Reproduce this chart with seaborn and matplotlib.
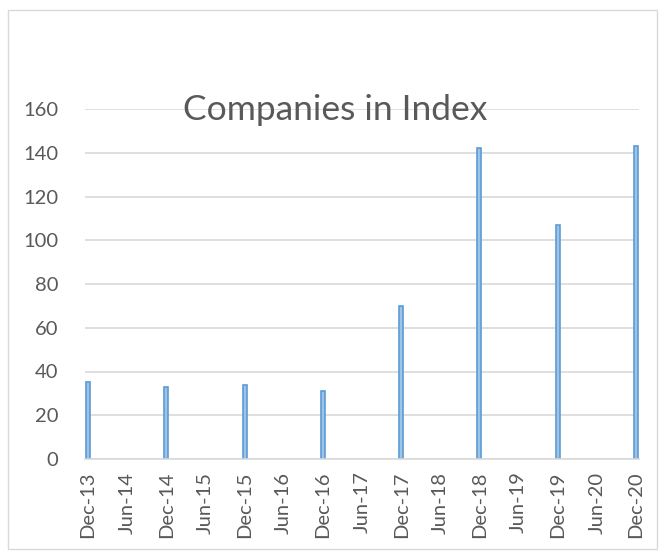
import matplotlib
matplotlib.use("Agg")
import matplotlib.pyplot as plt
import seaborn as sns
import pandas as pd
from matplotlib.patches import Rectangle

# months since Dec-13 for each observation
months = [0, 12, 24, 36, 48, 60, 72, 84]
companies = [35, 33, 34, 31, 70, 142, 107, 143]
tick_labels = ["Dec-13", "Jun-14", "Dec-14", "Jun-15", "Dec-15", "Jun-16", "Dec-16",
               "Jun-17", "Dec-17", "Jun-18", "Dec-18", "Jun-19", "Dec-19", "Jun-20", "Dec-20"]

df = pd.DataFrame({"month": months, "Companies": companies})

sns.set_theme(style="white")
plt.rcParams["font.family"] = ["Lato", "DejaVu Sans"]

fig = plt.figure(figsize=(6.64, 5.54), dpi=100)
ax = fig.add_axes([85 / 664, 1 - 459 / 554, (639 - 85) / 664, (459 - 109) / 554])

sns.barplot(data=df, x="month", y="Companies", native_scale=True, width=0.05,
            color="#9dc3e6", edgecolor="#5b9bd5", linewidth=1.2, saturation=1,
            ax=ax, errorbar=None)

ax.set_xlim(-0.46, 84.46)
ax.set_ylim(0, 160)
ax.set_yticks(range(0, 161, 20))
ax.set_xticks(range(0, 85, 6))
ax.set_xticklabels(tick_labels, rotation=90)
ax.tick_params(axis="both", length=0, labelsize=14.5, labelcolor="#595959")
ax.tick_params(axis="y", pad=19)
ax.tick_params(axis="x", pad=9)
ax.set_xlabel("")
ax.set_ylabel("")
ax.grid(axis="y", color="#d9d9d9", linewidth=1.2)
ax.set_axisbelow(True)
for s in ["top", "right", "left"]:
    ax.spines[s].set_visible(False)
ax.spines["bottom"].set_color("#d9d9d9")
ax.spines["bottom"].set_linewidth(1.2)

fig.text(335 / 664, 1 - 110 / 554, "Companies in Index", ha="center", va="center",
         fontsize=25.5, color="#595959")

fig.patches.append(Rectangle((8 / 664, 1 - 549 / 554), 649 / 664, 539 / 554,
                             transform=fig.transFigure, fill=False,
                             edgecolor="#d9d9d9", linewidth=1))

fig.savefig("out.png", dpi=100)
